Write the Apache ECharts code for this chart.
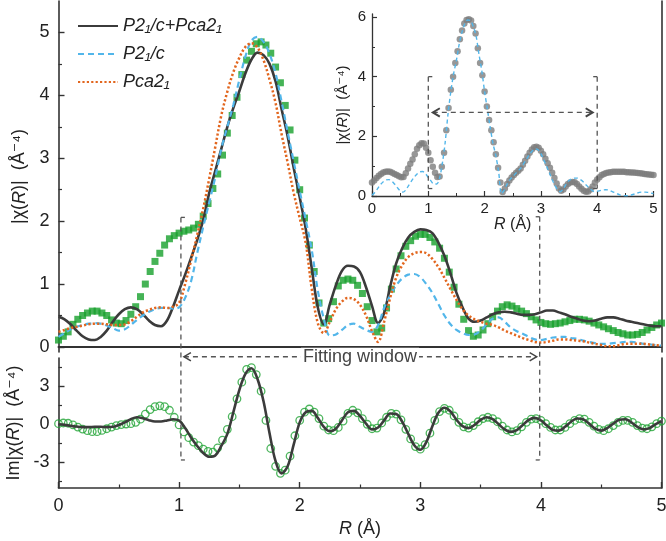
<!DOCTYPE html>
<html><head><meta charset="utf-8">
<script src="https://cdn.jsdelivr.net/npm/echarts@6/dist/echarts.min.js"></script>
<style>html,body{margin:0;padding:0;background:#fff}#c{width:666px;height:541px}</style>
</head><body><div id="c"></div>
<script>
// R grids (Å)
const R04 = [0,0.04,0.08,0.12,0.16,0.2,0.24,0.28,0.32,0.36,
0.4,0.44,0.48,0.52,0.56,0.6,0.64,0.68,0.72,0.76,
0.8,0.84,0.88,0.92,0.96,1,1.04,1.08,1.12,1.16,
1.2,1.24,1.28,1.32,1.36,1.4,1.44,1.48,1.52,1.56,
1.6,1.64,1.68,1.72,1.76,1.8,1.84,1.88,1.92,1.96,
2,2.04,2.08,2.12,2.16,2.2,2.24,2.28,2.32,2.36,
2.4,2.44,2.48,2.52,2.56,2.6,2.64,2.68,2.72,2.76,
2.8,2.84,2.88,2.92,2.96,3,3.04,3.08,3.12,3.16,
3.2,3.24,3.28,3.32,3.36,3.4,3.44,3.48,3.52,3.56,
3.6,3.64,3.68,3.72,3.76,3.8,3.84,3.88,3.92,3.96,
4,4.04,4.08,4.12,4.16,4.2,4.24,4.28,4.32,4.36,
4.4,4.44,4.48,4.52,4.56,4.6,4.64,4.68,4.72,4.76,
4.8,4.84,4.88,4.92,4.96,5];
const R05 = [0,0.05,0.1,0.15,0.2,0.25,0.3,0.35,0.4,0.45,
0.5,0.55,0.6,0.65,0.7,0.75,0.8,0.85,0.9,0.95,
1,1.05,1.1,1.15,1.2,1.25,1.3,1.35,1.4,1.45,
1.5,1.55,1.6,1.65,1.7,1.75,1.8,1.85,1.9,1.95,
2,2.05,2.1,2.15,2.2,2.25,2.3,2.35,2.4,2.45,
2.5,2.55,2.6,2.65,2.7,2.75,2.8,2.85,2.9,2.95,
3,3.05,3.1,3.15,3.2,3.25,3.3,3.35,3.4,3.45,
3.5,3.55,3.6,3.65,3.7,3.75,3.8,3.85,3.9,3.95,
4,4.05,4.1,4.15,4.2,4.25,4.3,4.35,4.4,4.45,
4.5,4.55,4.6,4.65,4.7,4.75,4.8,4.85,4.9,4.95,5];

// |chi(R)| experiment (green squares)
const expMag = [0.11,0.17,0.24,0.36,0.44,0.50,0.54,0.57,0.57,0.54,
0.50,0.43,0.38,0.37,0.42,0.52,0.64,0.80,1.00,1.20,
1.36,1.49,1.62,1.72,1.77,1.81,1.84,1.86,1.89,1.95,
2.08,2.28,2.52,2.75,3.05,3.40,3.68,3.97,4.33,4.56,
4.70,4.82,4.85,4.80,4.67,4.45,4.20,3.84,3.45,2.97,
2.50,2.05,1.62,1.20,0.70,0.38,0.45,0.72,0.97,1.06,
1.08,1.06,0.98,0.85,0.64,0.42,0.24,0.30,0.62,0.92,
1.24,1.45,1.60,1.69,1.76,1.79,1.79,1.74,1.67,1.57,
1.41,1.19,0.95,0.68,0.44,0.26,0.17,0.19,0.27,0.37,
0.48,0.57,0.64,0.67,0.65,0.61,0.57,0.53,0.48,0.43,
0.39,0.37,0.36,0.37,0.38,0.40,0.42,0.44,0.44,0.43,
0.41,0.38,0.35,0.32,0.29,0.26,0.23,0.21,0.19,0.19,
0.20,0.23,0.27,0.31,0.35,0.38];
// fits
const fitMix = [0.48,0.44,0.36,0.26,0.17,0.12,0.11,0.16,0.26,0.40,
0.52,0.60,0.63,0.60,0.52,0.42,0.35,0.33,0.42,0.64,
0.90,1.15,1.42,1.70,2.02,2.45,2.80,3.15,3.50,3.80,
4.07,4.35,4.57,4.68,4.64,4.50,4.22,3.78,3.35,2.85,
2.38,1.88,1.25,0.63,0.36,0.68,0.98,1.21,1.29,1.28,
1.19,0.95,0.65,0.38,0.54,0.96,1.33,1.57,1.74,1.83,
1.87,1.86,1.81,1.66,1.45,1.17,0.86,0.63,0.45,0.40,
0.42,0.47,0.52,0.55,0.56,0.55,0.53,0.51,0.51,0.52,
0.55,0.58,0.58,0.55,0.52,0.48,0.45,0.42,0.41,0.42,
0.45,0.47,0.47,0.45,0.42,0.40,0.38,0.36,0.34,0.33,0.33];
const fitP21c = [0.16,0.22,0.28,0.32,0.35,0.37,0.38,0.37,0.34,0.30,
0.26,0.28,0.35,0.43,0.50,0.56,0.60,0.62,0.62,0.61,
0.63,0.78,1.05,1.49,1.91,2.30,2.70,3.15,3.50,3.85,
4.25,4.62,4.87,4.93,4.85,4.66,4.35,3.90,3.42,2.95,
2.48,2.02,1.54,0.90,0.45,0.18,0.20,0.27,0.35,0.37,
0.32,0.27,0.24,0.35,0.62,0.82,0.98,1.09,1.15,1.16,
1.11,1.00,0.86,0.68,0.50,0.36,0.27,0.22,0.19,0.20,
0.26,0.36,0.45,0.47,0.40,0.31,0.25,0.21,0.16,0.12,
0.11,0.13,0.15,0.16,0.16,0.14,0.13,0.10,0.08,0.06,
0.05,0.05,0.06,0.07,0.08,0.08,0.07,0.05,0.04,0.03,0.02];
const fitPca21 = [0.24,0.27,0.30,0.32,0.34,0.36,0.37,0.37,0.36,0.35,
0.35,0.36,0.41,0.48,0.55,0.59,0.62,0.63,0.62,0.64,
0.70,1.00,1.38,1.78,2.20,2.68,3.18,3.68,4.06,4.37,
4.60,4.77,4.83,4.76,4.56,4.25,3.88,3.38,2.93,2.45,
2.05,1.65,0.92,0.38,0.22,0.40,0.60,0.72,0.78,0.76,
0.67,0.50,0.25,0.08,0.40,0.78,1.10,1.30,1.43,1.49,
1.51,1.49,1.40,1.27,1.10,0.92,0.75,0.60,0.50,0.44,
0.40,0.37,0.35,0.31,0.26,0.22,0.18,0.14,0.11,0.08,
0.07,0.08,0.10,0.12,0.12,0.11,0.10,0.09,0.07,0.05,
0.03,0.01,0.01,0.03,0.05,0.05,0.05,0.05,0.04,0.03,0.02];
// Im chi(R)
const expIm = [0.05,0.10,0.08,-0.05,-0.22,-0.38,-0.50,-0.58,-0.58,-0.48,
-0.35,-0.22,-0.10,-0.02,0.02,0.05,0.15,0.40,0.80,1.15,
1.38,1.45,1.38,1.10,0.55,-0.05,-0.60,-1.05,-1.40,-1.68,
-1.95,-2.12,-2.18,-1.85,-1.25,-0.40,0.60,2.00,3.30,4.30,
4.45,3.90,2.60,0.30,-1.90,-3.30,-3.85,-3.60,-2.50,-0.90,
0.30,0.95,1.20,0.95,0.45,-0.15,-0.45,-0.50,-0.25,0.25,
0.85,1.10,0.90,0.45,0.00,-0.35,-0.30,0.10,0.55,0.85,
0.80,0.35,-0.40,-1.15,-1.75,-1.95,-1.60,-0.70,0.30,1.00,
1.25,1.10,0.65,0.15,-0.20,-0.30,-0.10,0.20,0.45,0.55,
0.45,0.20,-0.15,-0.45,-0.60,-0.50,-0.20,0.15,0.40,0.45,
0.30,0.05,-0.25,-0.45,-0.45,-0.25,0.05,0.30,0.45,0.40,
0.15,-0.15,-0.40,-0.50,-0.35,-0.10,0.15,0.30,0.30,0.15,
-0.10,-0.30,-0.35,-0.20,0.05,0.25];
const fitIm = [0.00,-0.05,-0.12,-0.18,-0.22,-0.22,-0.20,-0.20,-0.22,-0.20,
-0.05,0.15,0.40,0.55,0.48,0.32,0.22,0.22,0.30,0.40,
0.30,-0.30,-1.05,-1.70,-2.25,-2.55,-2.45,-1.70,-0.75,0.95,
2.70,3.95,4.40,3.55,1.80,-0.70,-2.90,-3.85,-3.30,-1.60,
0.15,0.95,1.05,0.50,-0.20,-0.55,-0.35,0.30,0.95,1.05,
0.65,0.05,-0.40,-0.25,0.30,0.85,0.80,0.20,-0.75,-1.65,
-2.00,-1.40,-0.15,0.90,1.30,1.00,0.35,-0.15,-0.30,-0.05,
0.35,0.55,0.40,0.00,-0.40,-0.60,-0.45,-0.05,0.35,0.50,
0.30,-0.10,-0.45,-0.50,-0.20,0.20,0.45,0.40,0.05,-0.35,
-0.50,-0.30,0.05,0.35,0.40,0.15,-0.20,-0.40,-0.30,0.00,0.25];
// inset
const insetExp = [0.45,0.52,0.60,0.68,0.74,0.79,0.81,0.82,0.81,0.78,
0.74,0.70,0.66,0.63,0.64,0.76,0.92,1.08,1.22,1.40,
1.58,1.70,1.77,1.76,1.62,1.45,1.20,0.98,0.78,0.64,
0.65,0.98,1.45,2.20,2.95,3.56,4.00,4.46,4.85,5.25,
5.55,5.78,5.90,5.92,5.88,5.70,5.45,4.95,4.46,4.05,
3.50,3.00,2.55,2.20,1.80,1.40,0.95,0.45,0.13,0.25,
0.40,0.52,0.62,0.70,0.78,0.85,0.92,1.05,1.18,1.32,
1.45,1.56,1.63,1.65,1.62,1.52,1.40,1.25,1.10,0.95,
0.78,0.60,0.42,0.25,0.18,0.22,0.32,0.40,0.45,0.47,
0.46,0.40,0.32,0.24,0.18,0.14,0.15,0.22,0.32,0.45,
0.55,0.63,0.70,0.74,0.77,0.79,0.80,0.81,0.81,0.81,
0.81,0.81,0.81,0.80,0.80,0.79,0.79,0.78,0.77,0.76,
0.75,0.74,0.73,0.72,0.71,0.70];
const insetP21c = [0.03,0.12,0.25,0.38,0.48,0.54,0.55,0.50,0.40,0.28,
0.17,0.13,0.20,0.35,0.50,0.63,0.74,0.81,0.82,0.75,
0.62,0.50,0.40,0.40,0.60,1.10,1.80,2.75,3.50,4.10,
4.55,5.10,5.50,5.78,5.90,5.88,5.68,5.35,4.75,4.20,
3.50,2.90,2.30,1.75,1.35,0.80,0.08,0.20,0.40,0.55,
0.65,0.75,0.85,0.95,1.10,1.25,1.40,1.52,1.58,1.55,
1.42,1.22,1.00,0.78,0.55,0.35,0.20,0.15,0.25,0.40,
0.52,0.58,0.60,0.60,0.55,0.48,0.38,0.28,0.20,0.15,
0.16,0.18,0.20,0.21,0.20,0.16,0.12,0.08,0.04,0.02,
0.01,0.01,0.03,0.06,0.09,0.12,0.13,0.13,0.12,0.10,0.08];

// ticks & names
const topMajor = [0,1,2,3,4,5];
const topMinor = [0.5,1.5,2.5,3.5,4.5];
const botMajor = [-3,0,3];
const botMinor = [-4.5,-1.5,1.5,4.5];
const insMajor = [0,2,4,6];
const insMinor = [1,3,5];
const seriesNames = ['P2\u2081/c+Pca2\u2081','P2\u2081/c','Pca2\u2081'];
const winMain = [1.015, 3.99];
const winInset = [1.0, 4.0];

const FONT = '"Liberation Sans","DejaVu Sans",Arial,sans-serif';
const AX = '#333';
const zip = (xs, ys) => xs.map((x,i)=>[x, ys[i]]);

const chart = echarts.init(document.getElementById('c'), null, {renderer:'canvas'});

function hideAxis(extra){
  return Object.assign({type:'value', axisLine:{show:false}, axisTick:{show:false}, axisLabel:{show:false}, splitLine:{show:false}}, extra);
}
const lbl = (size, vals) => ({show:true, customValues: vals, fontSize:size, color:'#222', fontFamily:FONT});
const richI = (s) => ({i:{fontStyle:'italic', fontSize:s, fontFamily:FONT, color:'#222'}});

const option = {
  animation:false,
  backgroundColor:'#fff',
  grid:[
    {left:58.5, right:4.5, top:1, height:351, outerBoundsMode:'none'},
    {left:58.5, right:4.5, top:358, height:130, outerBoundsMode:'none'},
    {left:372, top:14, width:281.5, height:182, outerBoundsMode:'none'}
  ],
  legend:{
    data: seriesNames, orient:'vertical', left:72, top:11,
    itemWidth:40, itemHeight:14, itemGap:8,
    itemStyle:{opacity:0},
    textStyle:{fontSize:18, fontStyle:'italic', color:'#222', fontFamily:FONT, lineHeight:20}
  },
  xAxis:[
    hideAxis({gridIndex:0, min:0, max:5, position:'bottom'}),
    hideAxis({gridIndex:0, min:0, max:5, position:'top', axisLine:{show:true, lineStyle:{color:AX, width:2}}}),
    {type:'value', gridIndex:1, min:0, max:5, interval:1, position:'bottom',
      axisLine:{show:true, onZero:false, lineStyle:{color:AX, width:1.6}},
      axisTick:{show:true, inside:true, length:6, lineStyle:{color:AX, width:1.4}},
      minorTick:{show:true, splitNumber:2, length:3.5, lineStyle:{color:AX, width:1.2}},
      axisLabel:{fontSize:18, color:'#222', fontFamily:FONT, margin:9},
      splitLine:{show:false}, minorSplitLine:{show:false},
      name:'{i|R} (Å)', nameLocation:'middle', nameGap:32,
      nameTextStyle:{fontSize:18, color:'#222', fontFamily:FONT, rich:richI(18)}
    },
    {type:'value', gridIndex:2, min:0, max:5, interval:1, position:'bottom',
      axisLine:{show:true, onZero:false, lineStyle:{color:AX, width:1.3}},
      axisTick:{show:true, inside:true, length:5, lineStyle:{color:AX, width:1.2}},
      minorTick:{show:true, splitNumber:2, length:3, lineStyle:{color:AX, width:1}},
      axisLabel:{fontSize:15, color:'#222', fontFamily:FONT, margin:5},
      splitLine:{show:false}, minorSplitLine:{show:false},
      name:'{i|R} (Å)', nameLocation:'middle', nameGap:19,
      nameTextStyle:{fontSize:16, color:'#222', fontFamily:FONT, rich:richI(16)}
    }
  ],
  yAxis:[
    {type:'value', gridIndex:0, min:-0.08, max:5.5, position:'left',
      axisLine:{show:true, onZero:false, lineStyle:{color:AX, width:1.6}},
      axisTick:{show:true, inside:true, length:6, customValues:topMajor, lineStyle:{color:AX, width:1.4}},
      axisLabel:Object.assign(lbl(18, topMajor), {margin:9}),
      splitLine:{show:false},
      name:'|χ({i|R})|  (Å⁻⁴)', nameLocation:'middle', nameGap:30,
      nameTextStyle:{fontSize:18, color:'#222', fontFamily:FONT, rich:richI(18)}
    },
    hideAxis({gridIndex:0, min:-0.08, max:5.5, position:'left', axisTick:{show:true, inside:true, length:3.5, customValues:topMinor, lineStyle:{color:AX, width:1.2}}}),
    hideAxis({gridIndex:0, min:-0.08, max:5.5, position:'right', axisLine:{show:true, onZero:false, lineStyle:{color:AX, width:1.6}}}),
    {type:'value', gridIndex:1, min:-5, max:5.2, position:'left',
      axisLine:{show:true, onZero:false, lineStyle:{color:AX, width:1.6}},
      axisTick:{show:true, inside:true, length:6, customValues:botMajor, lineStyle:{color:AX, width:1.4}},
      axisLabel:Object.assign(lbl(18, botMajor), {margin:9}),
      splitLine:{show:false},
      name:'Im|χ({i|R})|  (Å⁻⁴)', nameLocation:'middle', nameGap:30,
      nameTextStyle:{fontSize:18, color:'#222', fontFamily:FONT, rich:richI(18)}
    },
    hideAxis({gridIndex:1, min:-5, max:5.2, position:'left', axisTick:{show:true, inside:true, length:3.5, customValues:botMinor, lineStyle:{color:AX, width:1.2}}}),
    hideAxis({gridIndex:1, min:-5, max:5.2, position:'right', axisLine:{show:true, onZero:false, lineStyle:{color:AX, width:1.6}}}),
    {type:'value', gridIndex:2, min:0, max:6.1, position:'left',
      axisLine:{show:true, onZero:false, lineStyle:{color:AX, width:1.3}},
      axisTick:{show:true, inside:true, length:5, customValues:insMajor, lineStyle:{color:AX, width:1.2}},
      axisLabel:Object.assign(lbl(15, insMajor), {margin:6}),
      splitLine:{show:false},
      name:'|χ({i|R})|  (Å⁻⁴)', nameLocation:'middle', nameGap:22,
      nameTextStyle:{fontSize:15, color:'#222', fontFamily:FONT, rich:richI(15)}
    },
    hideAxis({gridIndex:2, min:0, max:6.1, position:'left', axisTick:{show:true, inside:true, length:3, customValues:insMinor, lineStyle:{color:AX, width:1}}})
  ],
  series:[
    {type:'scatter', name:'exp', xAxisIndex:0, yAxisIndex:0, data:zip(R04, expMag), symbol:'rect', symbolSize:7, itemStyle:{color:'#16a02c'}, z:2},
    {type:'line', name:seriesNames[0], xAxisIndex:0, yAxisIndex:0, data:zip(R05, fitMix), symbol:'none', smooth:0.35, lineStyle:{color:'#3b3b3b', width:2.6}, itemStyle:{color:'#3b3b3b'}, z:4},
    {type:'line', name:seriesNames[1], xAxisIndex:0, yAxisIndex:0, data:zip(R05, fitP21c), symbol:'none', smooth:0.35, lineStyle:{color:'#52b6ea', width:2.2, type:[6,4]}, itemStyle:{color:'#52b6ea'}, z:4},
    {type:'line', name:seriesNames[2], xAxisIndex:0, yAxisIndex:0, data:zip(R05, fitPca21), symbol:'none', smooth:0.35, lineStyle:{color:'#e2661e', width:2.5, type:[2.2,2.2]}, itemStyle:{color:'#e2661e'}, z:4},
    {type:'scatter', name:'expIm', xAxisIndex:2, yAxisIndex:3, data:zip(R04, expIm), symbol:'circle', symbolSize:7.5, itemStyle:{color:'rgba(0,0,0,0)', borderColor:'#22a436', borderWidth:1.3}, z:2},
    {type:'line', name:'fitIm', xAxisIndex:2, yAxisIndex:3, data:zip(R05, fitIm), symbol:'none', smooth:0.35, lineStyle:{color:'#3b3b3b', width:2.6}, z:4},
    {type:'scatter', name:'insetExp', xAxisIndex:3, yAxisIndex:6, data:zip(R04, insetExp), symbol:'circle', symbolSize:6.5, itemStyle:{color:'#7d7d7d'}, z:2},
    {type:'line', name:'insetP21c', xAxisIndex:3, yAxisIndex:6, data:zip(R05, insetP21c), symbol:'none', smooth:0.3, lineStyle:{color:'#52b6ea', width:1.4, type:[4,3]}, z:4}
  ]
};
chart.setOption(option);

// fitting-window annotations, positioned through the axes' scales
const P = (si, x, y) => chart.convertToPixel({seriesIndex: si}, [x, y]);
const g = [];
const DASH = {stroke:'#555', lineWidth:1.3, lineDash:[5,4], fill:null};
const SOL = {stroke:'#555', lineWidth:1.3, fill:null};
function seg(a, b, st){ g.push({type:'line', z:20, shape:{x1:a[0], y1:a[1], x2:b[0], y2:b[1]}, style:Object.assign({}, st)}); }
function head(x, y, dir, sz, w){ g.push({type:'polyline', z:21, shape:{points:[[x+dir*sz, y-sz*0.6],[x, y],[x+dir*sz, y+sz*0.6]]}, style:{stroke:'#444', lineWidth:w, fill:null}}); }

// main window
const Lt = P(1, winMain[0], 2.06), Lb = P(5, winMain[0], -2.8);
const Rt = P(1, winMain[1], 2.07), Rb = P(5, winMain[1], -2.8);
seg(Lt, Lb, DASH); seg(Rt, Rb, DASH);
seg(Lt, [Lt[0]+4, Lt[1]], SOL); seg(Lb, [Lb[0]+4, Lb[1]], SOL);
seg(Rt, [Rt[0]-4, Rt[1]], SOL); seg(Rb, [Rb[0]-4, Rb[1]], SOL);
const ya = P(5, 0, 5.3)[1];
const xa1 = P(5, 1.04, 0)[0], xa2 = P(5, 3.965, 0)[0];
seg([xa1, ya], [xa2, ya], DASH);
head(xa1, ya, 1, 7, 1.5); head(xa2, ya, -1, 7, 1.5);
g.push({type:'text', z:22, x:P(5, 2.5, 0)[0], y:ya, style:{text:'Fitting window', fontSize:18, fontFamily:FONT, fill:'#444', align:'center', verticalAlign:'middle', backgroundColor:'#fff', padding:[0,2]}});

// inset window
const iLt = P(7, winInset[0], 4.0), iLb = P(7, winInset[0], 0.25);
const iRt = P(7, winInset[1], 4.0), iRb = P(7, winInset[1], 0.25);
seg(iLt, iLb, DASH); seg(iRt, iRb, DASH);
seg(iLt, [iLt[0]+4, iLt[1]], SOL); seg(iLb, [iLb[0]+4, iLb[1]], SOL);
seg(iRt, [iRt[0]-4, iRt[1]], SOL); seg(iRb, [iRb[0]-4, iRb[1]], SOL);
const iy = P(7, 0, 2.8)[1];
const ix1 = P(7, 1.08, 0)[0], ix2 = P(7, 3.92, 0)[0];
seg([ix1, iy], [ix2, iy], DASH);
head(ix1, iy, 1, 7, 2); head(ix2, iy, -1, 7, 2);

chart.setOption({graphic: g});
</script></body></html>
